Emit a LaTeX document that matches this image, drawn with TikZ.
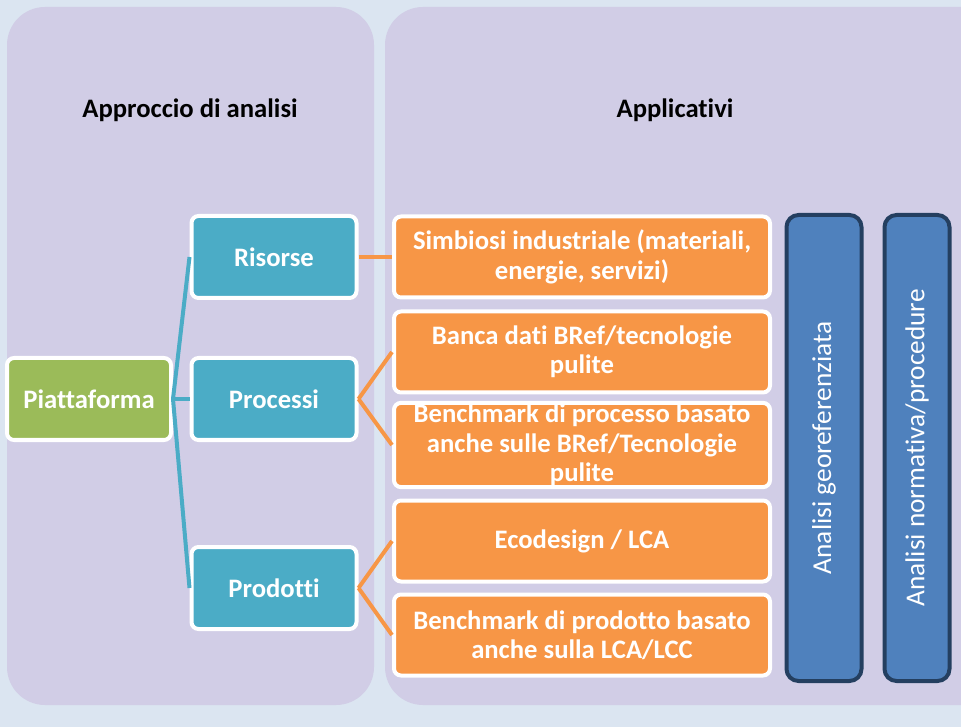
\documentclass[tikz,border=0pt]{standalone}
\usepackage{fontspec}
\setmainfont{Carlito}[Ligatures={NoCommon}]
\usetikzlibrary{positioning}
\definecolor{pagebg}{HTML}{DBE5F1}
\definecolor{panelfill}{HTML}{D1CDE6}
\definecolor{hubgreen}{HTML}{9BBB59}
\definecolor{areateal}{HTML}{4BACC6}
\definecolor{apporange}{HTML}{F79646}
\definecolor{toolblue}{HTML}{4F81BD}
\definecolor{toolnavy}{HTML}{243F60}
\newlength\px
\setlength\px{0.75pt}

\begin{document}
\begin{tikzpicture}[x=0.75pt, y=-0.75pt,
    panel/.style={fill=panelfill, rounded corners=38\px},
    title/.style={font=\bfseries\fontsize{20}{24}\selectfont},
    box/.style={draw=white, line width=4\px, rounded corners=7\px, text=white, align=center, inner sep=1pt, font=\bfseries\fontsize{20}{22}\selectfont},
    hub/.style={box, fill=hubgreen, minimum width=164\px, minimum height=82\px},
    area/.style={box, fill=areateal, minimum width=165\px, minimum height=82\px},
    app/.style={box, fill=apporange, minimum width=376\px, minimum height=81\px},
    tool/.style={draw=toolnavy, fill=toolblue, line width=4\px, rounded corners=12\px, rotate=90, text=white, minimum width=466\px, font=\fontsize{20.5}{24}\selectfont},
    link/.style={line width=4\px}]
    \clip (0,0) rectangle (961,727);
    \fill[pagebg] (0,0) rectangle (961,727);
    % Panels and titles
    \fill[panel] (7,7) rectangle (374,705);
    \fill[panel] (385,7) rectangle (1030,705);
    \node[title] (approach) at (190,110) {Approccio di analisi};
    \node[title] (apps) at (675,110) {Applicativi};
    % Nodes (platform, areas, applications)
    \node[hub] (platform) at (89,399) {Piattaforma};
    \node[area] (resources) at (274,257) {Risorse};
    \node[area] (processes) at (274,399) {Processi};
    \node[area] (products) at (274,588) {Prodotti};
    \node[app] (symbiosis) at (582,257) {Simbiosi industriale (materiali,\\energie, servizi)};
    \node[app] (bref) at (582,352) {Banca dati BRef/tecnologie\\pulite};
    \node[app] (procbench) at (582,445) {Benchmark di processo basato\\anche sulle BRef/Tecnologie\\pulite};
    \node[app] (ecodesign) at (582,541) {Ecodesign / LCA};
    \node[app] (prodbench) at (582,635) {Benchmark di prodotto basato\\anche sulla LCA/LCC};
    \node[tool, minimum height=75\px] (geo) at (824,448) {Analisi georeferenziata};
    \node[tool, minimum height=65\px] (norm) at (917,448) {Analisi normativa/procedure};
    % Connectors
    \draw[link, areateal] (platform.east) -- (resources.west);
    \draw[link, areateal] (platform.east) -- (processes.west);
    \draw[link, areateal] (platform.east) -- (products.west);
    \draw[link, apporange] (resources.east) -- (symbiosis.west);
    \draw[link, apporange] (processes.east) -- (bref.west);
    \draw[link, apporange] (processes.east) -- (procbench.west);
    \draw[link, apporange] (products.east) -- (ecodesign.west);
    \draw[link, apporange] (products.east) -- (prodbench.west);
\end{tikzpicture}
\end{document}
